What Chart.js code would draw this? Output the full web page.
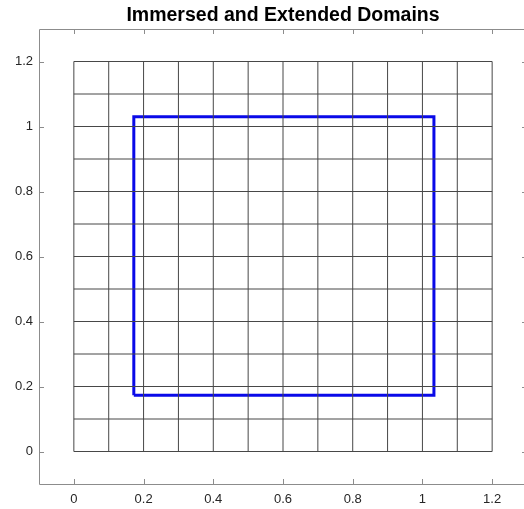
<!DOCTYPE html>
<html>
<head>
<meta charset="utf-8">
<script src="https://cdn.jsdelivr.net/npm/chart.js@4.4.1/dist/chart.umd.min.js"></script>
<style>
  html, body { margin: 0; padding: 0; background: #fff; overflow: hidden; }
  #wrap { width: 528px; height: 509px; position: relative; }
</style>
</head>
<body>
<div id="wrap"><canvas id="c"></canvas></div>
<script>
// Mesh lines of the extended domain (both directions)
const gridVals = [0, 0.1, 0.2, 0.3, 0.4, 0.5, 0.6, 0.7, 0.8, 0.9, 1.0, 1.1, 1.2];
// Immersed domain boundary (rectangle corners)
const rectX = [0.172, 1.033];
const rectY = [0.173, 1.03];
// Axis tick positions and labels
const xTicks = [0, 0.2, 0.4, 0.6, 0.8, 1.0, 1.2];
const yTicks = [0, 0.2, 0.4, 0.6, 0.8, 1.0, 1.2];
const xRange = [-0.1, 1.3];
const yRange = [-0.1, 1.3];

const gridMin = gridVals[0], gridMax = gridVals[gridVals.length - 1];
const lineStyle = { showLine: true, pointRadius: 0, borderColor: '#474747', borderWidth: 1, fill: false, tension: 0 };

const datasets = [];
gridVals.forEach(v => {
  datasets.push(Object.assign({ data: [{ x: v, y: gridMin }, { x: v, y: gridMax }] }, lineStyle));
  datasets.push(Object.assign({ data: [{ x: gridMin, y: v }, { x: gridMax, y: v }] }, lineStyle));
});
datasets.push({
  data: [
    { x: rectX[0], y: rectY[0] }, { x: rectX[1], y: rectY[0] },
    { x: rectX[1], y: rectY[1] }, { x: rectX[0], y: rectY[1] },
    { x: rectX[0], y: rectY[0] }
  ],
  showLine: true, pointRadius: 0, borderColor: '#0a0ae8', borderWidth: 3,
  fill: false, tension: 0, borderJoinStyle: 'miter'
});

// Box around the axes with inward-pointing tick marks
const boxPlugin = {
  id: 'axesBox',
  afterDatasetsDraw(chart) {
    const { ctx, chartArea: a, scales } = chart;
    ctx.save();
    ctx.strokeStyle = '#8c8c8c';
    ctx.lineWidth = 1;
    ctx.beginPath();
    ctx.moveTo(a.left + 0.5, a.bottom + 0.5);
    ctx.lineTo(a.left + 0.5, a.top + 0.5);
    ctx.lineTo(a.right - 0.5, a.top + 0.5);
    ctx.lineTo(a.right - 0.5, a.bottom + 0.5);
    ctx.lineTo(a.left + 0.5, a.bottom + 0.5);
    const len = 5;
    xTicks.forEach(v => {
      const px = Math.round(scales.x.getPixelForValue(v)) + 0.5;
      ctx.moveTo(px, a.bottom); ctx.lineTo(px, a.bottom - len);
      ctx.moveTo(px, a.top); ctx.lineTo(px, a.top + len);
    });
    yTicks.forEach(v => {
      const py = Math.round(scales.y.getPixelForValue(v)) + 0.5;
      ctx.moveTo(a.left, py); ctx.lineTo(a.left + len, py);
      ctx.moveTo(a.right, py); ctx.lineTo(a.right - len, py);
    });
    ctx.stroke();
    ctx.restore();
  }
};

const font = { family: "'Liberation Sans', Arial, Helvetica, sans-serif", size: 13 };

new Chart(document.getElementById('c'), {
  type: 'scatter',
  data: { datasets },
  options: {
    responsive: true,
    maintainAspectRatio: false,
    animation: false,
    layout: { padding: { left: 0, right: 1, top: 0, bottom: 0 } },
    plugins: {
      legend: { display: false },
      tooltip: { enabled: false },
      title: {
        display: true,
        text: 'Immersed and Extended Domains',
        fullSize: false,
        color: '#000',
        font: { family: "'Liberation Sans', Arial, Helvetica, sans-serif", size: 19.5, weight: 'bold', lineHeight: 1.2 },
        padding: { top: 3.5, bottom: 2.1 }
      }
    },
    scales: {
      x: {
        type: 'linear',
        min: xRange[0], max: xRange[1],
        afterBuildTicks: s => { s.ticks = xTicks.map(v => ({ value: v })); },
        afterFit: s => { s.height = 25; },
        grid: { display: false, drawTicks: false },
        border: { display: false },
        ticks: { color: '#262626', font, padding: 8, maxRotation: 0, autoSkip: false,
                 callback: v => String(Number(v.toFixed(1))) }
      },
      y: {
        type: 'linear',
        min: yRange[0], max: yRange[1],
        afterBuildTicks: s => { s.ticks = yTicks.map(v => ({ value: v })); },
        afterFit: s => { s.width = 39; },
        grid: { display: false, drawTicks: false },
        border: { display: false },
        ticks: { color: '#262626', font, padding: 6, autoSkip: false,
                 callback: v => String(Number(v.toFixed(1))) }
      }
    }
  },
  plugins: [boxPlugin]
});
</script>
</body>
</html>
